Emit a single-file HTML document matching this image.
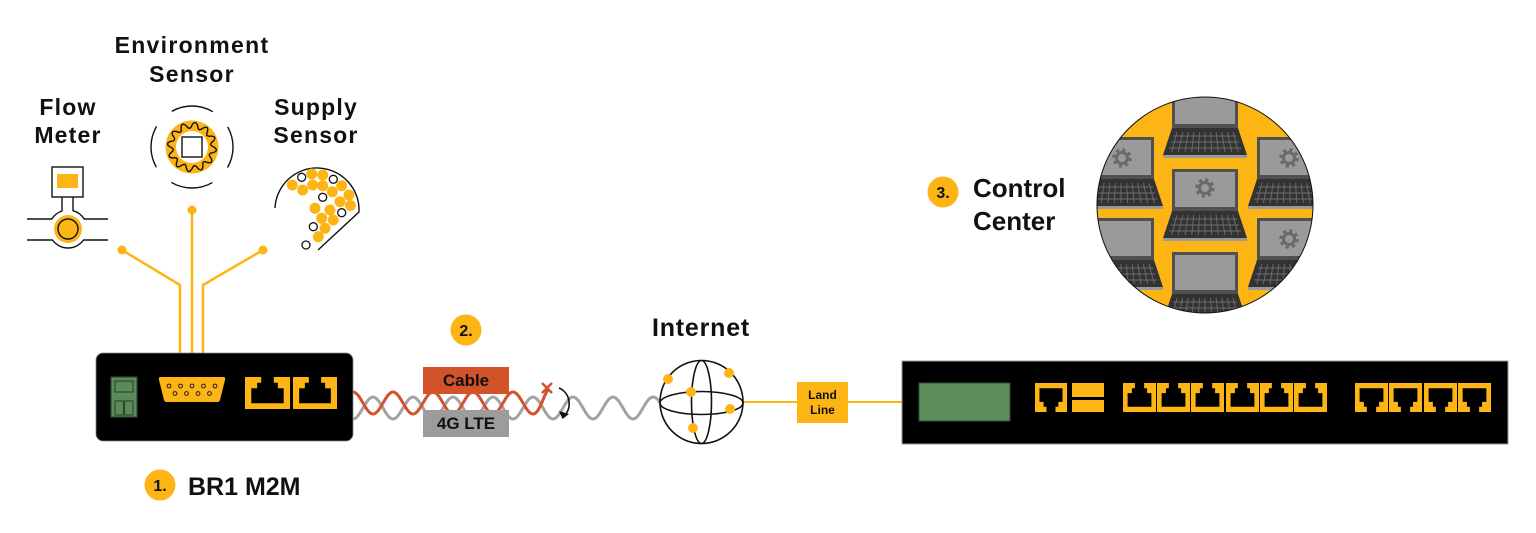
<!DOCTYPE html>
<html>
<head>
<meta charset="utf-8">
<style>
html,body{margin:0;padding:0;background:#fff;}
svg{display:block;}
text{font-family:"Liberation Sans",Arial,sans-serif;font-weight:bold;fill:#111;}
</style>
</head>
<body>
<svg width="1536" height="533" viewBox="0 0 1536 533" xmlns="http://www.w3.org/2000/svg">
<defs>
  <path id="uport" fill-rule="evenodd" d="M0,0H1V1H0Z M0.14,0.82V0.35H0.27V0.18H0.36V0H0.64V0.18H0.73V0.35H0.86V0.82Z"/>
  <path id="wseg" d="M23,0 Q28.75,3.785 22.216,5.953 Q15.706,6.506 19.919,11.5"/>
  <clipPath id="cc"><circle cx="1205" cy="205" r="108"/></clipPath>
  <g id="lap">
    <rect width="66" height="42" fill="#505050"/>
    <rect x="3" y="3" width="60" height="35" fill="#9a9a9a"/>
    <path d="M0,42H66L75,69H-9Z" fill="#333"/>
    <path d="M1,50H65 M-1,56H67 M-3,62H69 M5,46L-0.3,66 M10.6,46L6.3,66 M16.2,46L13,66 M21.8,46L19.7,66 M27.4,46L26.3,66 M33,46L33,66 M38.6,46L39.7,66 M44.2,46L46.3,66 M49.8,46L53,66 M55.4,46L59.7,66 M61,46L66.3,66" stroke="#6e6e6e" stroke-width="0.9" fill="none"/>
    <rect x="-9" y="69" width="84" height="3" fill="#9a9a9a"/>
  </g>
  <g id="gear">
    <circle r="8" fill="none" stroke="#6a6a6a" stroke-width="3.5" stroke-dasharray="3.14 3.14"/>
    <circle r="5.5" fill="none" stroke="#6a6a6a" stroke-width="3"/>
  </g>
</defs>

<!-- ===== Labels top-left ===== -->
<text x="192" y="53" font-size="23" text-anchor="middle" letter-spacing="1.3">Environment</text>
<text x="192" y="82" font-size="23" text-anchor="middle" letter-spacing="1.3">Sensor</text>
<text x="68" y="115" font-size="23" text-anchor="middle" letter-spacing="1.2">Flow</text>
<text x="68" y="143" font-size="23" text-anchor="middle" letter-spacing="1.2">Meter</text>
<text x="316" y="115" font-size="23" text-anchor="middle" letter-spacing="1.2">Supply</text>
<text x="316" y="143" font-size="23" text-anchor="middle" letter-spacing="1.2">Sensor</text>

<!-- ===== Environment sensor icon ===== -->
<circle cx="192" cy="147" r="41" fill="none" stroke="#111" stroke-width="1.4" stroke-dasharray="42.94 21.47" stroke-dashoffset="21.47"/>
<circle cx="192" cy="147" r="26.5" fill="#FDB515"/>
<g transform="translate(192,147)">
  <circle r="16" fill="#fff"/>
  <g fill="none" stroke="#111" stroke-width="1.5" transform="scale(0.95)">
    <use href="#wseg"/><use href="#wseg" transform="rotate(30)"/><use href="#wseg" transform="rotate(60)"/><use href="#wseg" transform="rotate(90)"/>
    <use href="#wseg" transform="rotate(120)"/><use href="#wseg" transform="rotate(150)"/><use href="#wseg" transform="rotate(180)"/><use href="#wseg" transform="rotate(210)"/>
    <use href="#wseg" transform="rotate(240)"/><use href="#wseg" transform="rotate(270)"/><use href="#wseg" transform="rotate(300)"/><use href="#wseg" transform="rotate(330)"/>
  </g>
  <rect x="-10" y="-10" width="20" height="20" fill="#fff" stroke="#111" stroke-width="1.4"/>
</g>

<!-- ===== Flow meter icon ===== -->
<rect x="52" y="167" width="31" height="30" fill="#fff" stroke="#111" stroke-width="1.4"/>
<rect x="57" y="174" width="21" height="14" fill="#FDB515"/>
<path d="M27,219 L51.8,219 A19,19 0 0 1 62,211 L62,197 M73,197 L73,210.7 A19,19 0 0 1 84.2,219 L108,219 M27,240 L52.5,240 A19,19 0 0 0 83.5,240 L108,240" fill="none" stroke="#111" stroke-width="1.4"/>
<circle cx="68" cy="229" r="14" fill="#FDB515"/>
<circle cx="68" cy="229" r="10" fill="none" stroke="#111" stroke-width="1.4"/>

<!-- ===== Supply sensor icon ===== -->
<path d="M275,208 A42,42 0 0 1 359,212 L318,250" fill="none" stroke="#111" stroke-width="1.4"/>
<g fill="#FDB515">
  <circle cx="311.7" cy="174" r="5.5"/><circle cx="322.7" cy="175" r="5.5"/>
  <circle cx="292.3" cy="185" r="5.5"/><circle cx="302.7" cy="190" r="5.5"/><circle cx="312.7" cy="185" r="5.5"/>
  <circle cx="322.7" cy="185.7" r="5.5"/><circle cx="332.3" cy="191.7" r="5.5"/><circle cx="341.7" cy="185.7" r="5.5"/>
  <circle cx="349" cy="195" r="5.5"/><circle cx="340" cy="201.7" r="5.5"/><circle cx="350.5" cy="205.5" r="5.5"/>
  <circle cx="315" cy="208.3" r="5.5"/><circle cx="330" cy="210" r="5.5"/>
  <circle cx="321.7" cy="218.3" r="5.5"/><circle cx="333.3" cy="220" r="5.5"/>
  <circle cx="325" cy="228.3" r="5.5"/><circle cx="318.3" cy="236.7" r="5.5"/>
</g>
<g fill="#fff" stroke="#111" stroke-width="1.3">
  <circle cx="301.7" cy="177.3" r="4"/><circle cx="333.3" cy="179.3" r="4"/>
  <circle cx="322.7" cy="197.3" r="4"/><circle cx="341.7" cy="212.7" r="4"/>
  <circle cx="313.3" cy="226.7" r="4"/><circle cx="306" cy="245" r="4"/>
</g>

<!-- ===== sensor connector lines ===== -->
<g fill="none" stroke="#FDB515" stroke-width="2.5">
  <path d="M122,250 L180,285 L180,382"/>
  <path d="M192,210 L192,382"/>
  <path d="M263,250 L203,285 L203,382"/>
</g>
<g fill="#FDB515">
  <circle cx="122" cy="250" r="4.5"/><circle cx="192" cy="210" r="4.5"/><circle cx="263" cy="250" r="4.5"/>
</g>

<!-- ===== Twisted cables ===== -->
<path d="M353,419 C360.2,419 365.8,397 373,397 S385.8,419 393,419 S405.8,397 413,397 S425.8,419 433,419 S445.8,397 453,397 S465.8,419 473,419 S485.8,397 493,397 S505.8,419 513,419 S525.8,397 533,397 S545.8,419 553,419 S565.8,397 573,397 S585.8,419 593,419 S605.8,397 613,397 S625.8,419 633,419 S645.8,397 653,397 C656,397 658,399 660,403" fill="none" stroke="#A3A3A3" stroke-width="3"/>
<path d="M353,392 C360.2,392 365.8,414 373,414 S385.8,392 393,392 S405.8,414 413,414 S425.8,392 433,392 S445.8,414 453,414 S465.8,392 473,392 S485.8,414 493,414 S505.8,392 513,392 S525.8,414 533,414 S544,392 549,389" fill="none" stroke="#D2522A" stroke-width="3"/>
<path d="M542,383 L552,393 M552,383 L542,393" stroke="#D2522A" stroke-width="2.5" fill="none"/>
<path d="M559,388 C571,393 572,409 564,416" fill="none" stroke="#111" stroke-width="1.6"/>
<path d="M559,411 L562.5,419 L569,414 Z" fill="#111"/>

<!-- Cable / 4G boxes -->
<rect x="423" y="367" width="86" height="27" fill="#D2522A"/>
<text x="466" y="386" font-size="17" text-anchor="middle">Cable</text>
<rect x="423" y="410" width="86" height="27" fill="#9C9C9C"/>
<text x="466" y="429" font-size="17" text-anchor="middle">4G LTE</text>
<circle cx="466" cy="330" r="15.5" fill="#FDB515"/>
<text x="466" y="336" font-size="16" text-anchor="middle">2.</text>

<!-- ===== Device 1 ===== -->
<rect x="96" y="353" width="257" height="88" rx="7" fill="#000" stroke="#888" stroke-width="0.8"/>
<rect x="111" y="377" width="26" height="40" fill="#5B8B5A" stroke="#2E4A2E" stroke-width="1.2"/>
<rect x="115" y="381" width="18" height="11" fill="#5B8B5A" stroke="#2E4A2E" stroke-width="1.2"/>
<rect x="115" y="401" width="8.5" height="14" fill="#5B8B5A" stroke="#2E4A2E" stroke-width="1.2"/>
<rect x="124.5" y="401" width="8.5" height="14" fill="#5B8B5A" stroke="#2E4A2E" stroke-width="1.2"/>
<path d="M161,377 L223,377 Q226,377 225,380 L220,400 Q219.5,402 217,402 L167,402 Q164.5,402 164,400 L159,380 Q158,377 161,377 Z" fill="#FDB515"/>
<g fill="none" stroke="#222" stroke-width="1">
  <circle cx="169" cy="386" r="1.9"/><circle cx="180.5" cy="386" r="1.9"/><circle cx="192" cy="386" r="1.9"/><circle cx="203.5" cy="386" r="1.9"/><circle cx="215" cy="386" r="1.9"/>
  <circle cx="175" cy="393.5" r="1.9"/><circle cx="186.5" cy="393.5" r="1.9"/><circle cx="198" cy="393.5" r="1.9"/><circle cx="209.5" cy="393.5" r="1.9"/>
</g>
<use href="#uport" fill="#FDB515" transform="translate(245,377) scale(45,32)"/>
<use href="#uport" fill="#FDB515" transform="translate(293,377) scale(44,32)"/>

<circle cx="160" cy="485" r="15.5" fill="#FDB515"/>
<text x="160" y="491" font-size="16" text-anchor="middle">1.</text>
<text x="188" y="495" font-size="25">BR1 M2M</text>

<!-- ===== Internet ===== -->
<text x="701" y="336" font-size="25" text-anchor="middle" letter-spacing="0.8">Internet</text>
<line x1="743" y1="402" x2="903" y2="402" stroke="#FDB515" stroke-width="2"/>
<circle cx="701.5" cy="402" r="41.5" fill="#fff" stroke="#111" stroke-width="1.6"/>
<ellipse cx="701.5" cy="402" rx="10" ry="41.5" fill="none" stroke="#111" stroke-width="1.6"/>
<ellipse cx="701.5" cy="403" rx="41.5" ry="11.5" fill="none" stroke="#111" stroke-width="1.6"/>
<g fill="#FDB515">
  <circle cx="668" cy="379" r="5"/><circle cx="729" cy="373" r="5"/><circle cx="691" cy="392" r="5"/>
  <circle cx="730" cy="409" r="5"/><circle cx="693" cy="428" r="5"/>
</g>
<rect x="797" y="382" width="51" height="41" fill="#FDB515"/>
<text x="822.5" y="399" font-size="12" text-anchor="middle">Land</text>
<text x="822.5" y="414" font-size="12" text-anchor="middle">Line</text>

<!-- ===== Big device ===== -->
<rect x="902" y="361" width="606" height="83" fill="#000" stroke="#999" stroke-width="1"/>
<rect x="919" y="383" width="91" height="38" fill="#5C8D5B" stroke="#2f4f2f" stroke-width="1"/>
<use href="#uport" fill="#FDB515" transform="translate(1035,412) scale(32,-29)"/>
<rect x="1072" y="383" width="32" height="14" fill="#FDB515"/>
<rect x="1072" y="400" width="32" height="12" fill="#FDB515"/>
<use href="#uport" fill="#FDB515" transform="translate(1123,383) scale(33,29)"/>
<use href="#uport" fill="#FDB515" transform="translate(1157,383) scale(33,29)"/>
<use href="#uport" fill="#FDB515" transform="translate(1191,383) scale(33,29)"/>
<use href="#uport" fill="#FDB515" transform="translate(1226,383) scale(33,29)"/>
<use href="#uport" fill="#FDB515" transform="translate(1260,383) scale(33,29)"/>
<use href="#uport" fill="#FDB515" transform="translate(1294,383) scale(33,29)"/>
<use href="#uport" fill="#FDB515" transform="translate(1355,412) scale(33,-29)"/>
<use href="#uport" fill="#FDB515" transform="translate(1389,412) scale(33,-29)"/>
<use href="#uport" fill="#FDB515" transform="translate(1424,412) scale(33,-29)"/>
<use href="#uport" fill="#FDB515" transform="translate(1458,412) scale(33,-29)"/>

<!-- ===== Control center ===== -->
<circle cx="943" cy="192" r="15.5" fill="#FDB515"/>
<text x="943" y="198" font-size="16" text-anchor="middle">3.</text>
<text x="973" y="197" font-size="26">Control</text>
<text x="973" y="230" font-size="26">Center</text>

<g clip-path="url(#cc)">
  <rect x="1090" y="90" width="230" height="230" fill="#FDB515"/>
  <use href="#lap" transform="translate(1172,86)"/>
  <use href="#lap" transform="translate(1172,169)"/>
  <use href="#lap" transform="translate(1172,252)"/>
  <use href="#lap" transform="translate(1088,137)"/>
  <use href="#lap" transform="translate(1088,218)"/>
  <use href="#lap" transform="translate(1257,137)"/>
  <use href="#lap" transform="translate(1257,218)"/>
  <use href="#gear" transform="translate(1205,188)"/>
  <use href="#gear" transform="translate(1122,158)"/>
  <use href="#gear" transform="translate(1289,158)"/>
  <use href="#gear" transform="translate(1289,239)"/>
</g>
<circle cx="1205" cy="205" r="108" fill="none" stroke="#111" stroke-width="1"/>
</svg>
</body>
</html>
